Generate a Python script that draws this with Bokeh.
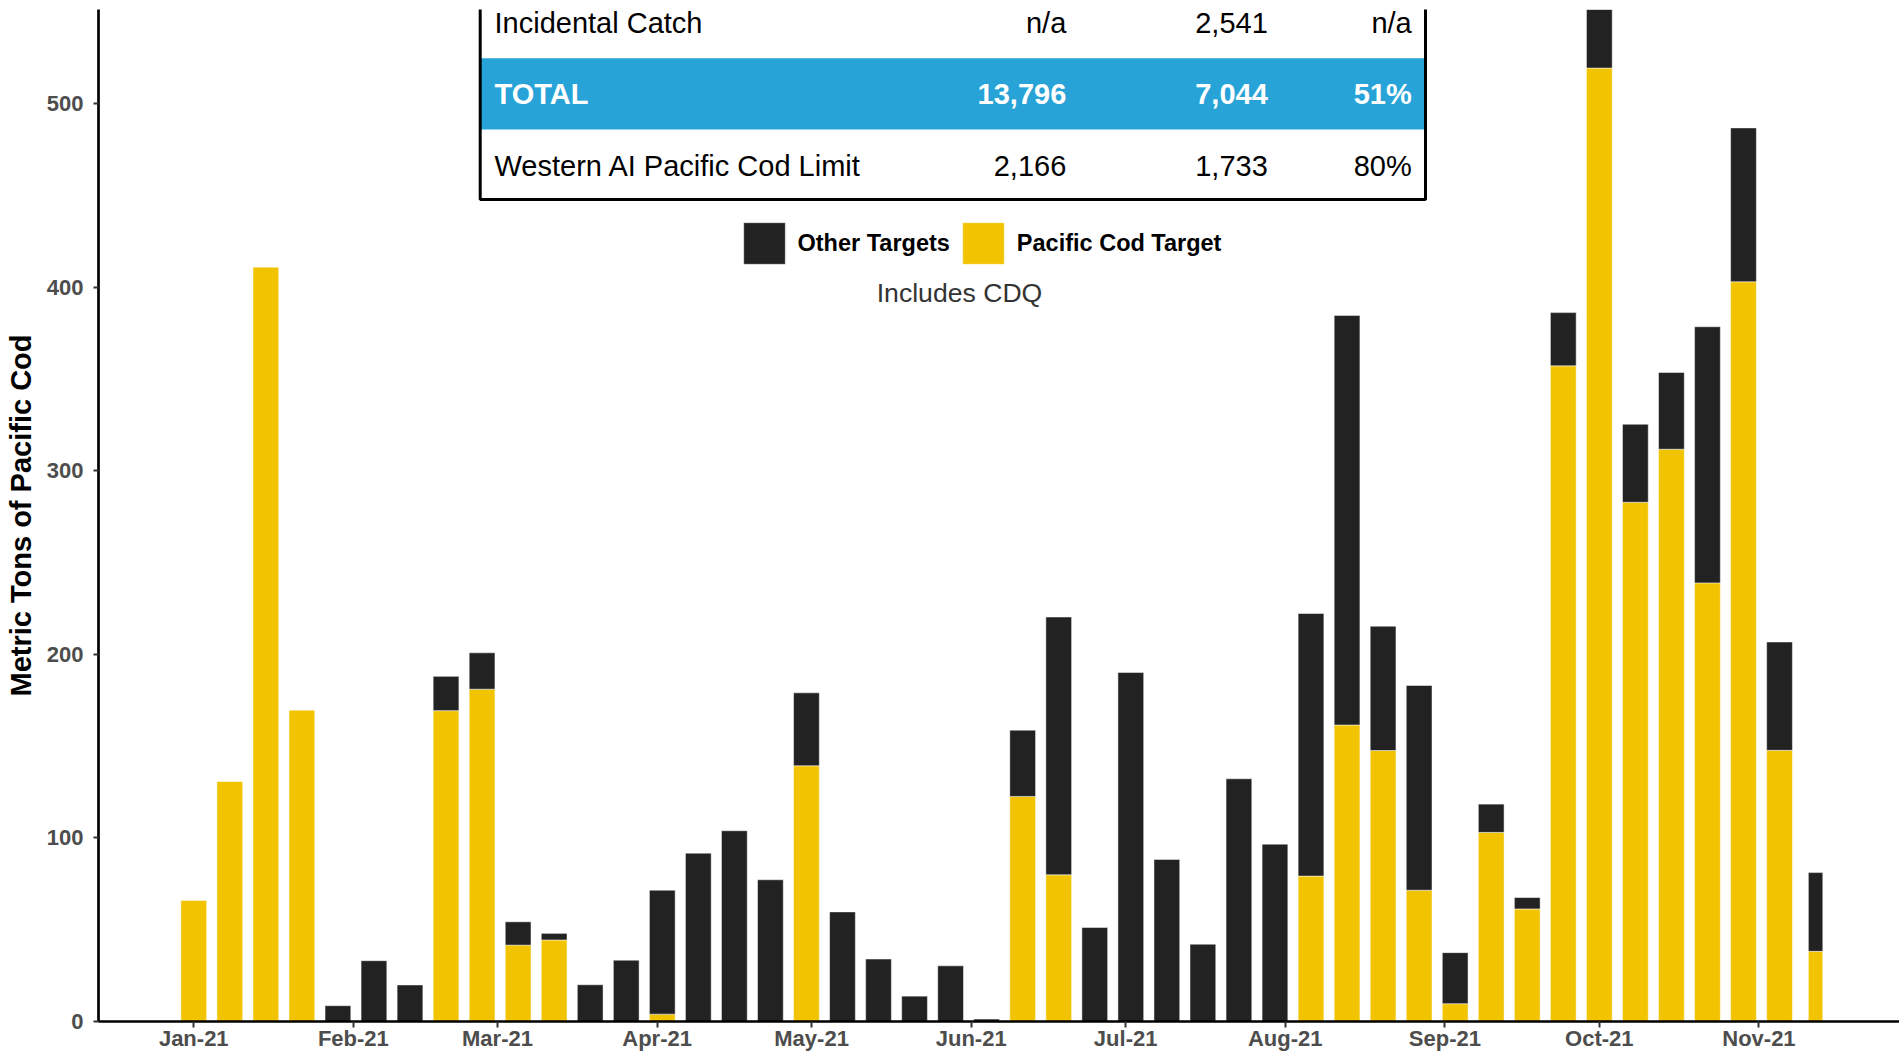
from datetime import datetime, timedelta

from bokeh.plotting import figure
from bokeh.models import (Range1d, Legend, LegendItem, Label, BoxAnnotation,
                          ColumnDataSource, DatetimeTickFormatter, MonthsTicker,
                          FixedTicker)
from bokeh.embed import file_html
from bokeh.resources import INLINE

# ---------------- data ----------------
week_dates = [
    "2021-01-01", "2021-01-08", "2021-01-15", "2021-01-22", "2021-01-29",
    "2021-02-05", "2021-02-12", "2021-02-19", "2021-02-26",
    "2021-03-05", "2021-03-12", "2021-03-19", "2021-03-26",
    "2021-04-02", "2021-04-09", "2021-04-16", "2021-04-23", "2021-04-30",
    "2021-05-07", "2021-05-14", "2021-05-21", "2021-05-28",
    "2021-06-04", "2021-06-11", "2021-06-18", "2021-06-25",
    "2021-07-02", "2021-07-09", "2021-07-16", "2021-07-23", "2021-07-30",
    "2021-08-06", "2021-08-13", "2021-08-20", "2021-08-27",
    "2021-09-03", "2021-09-10", "2021-09-17", "2021-09-24",
    "2021-10-01", "2021-10-08", "2021-10-15", "2021-10-22", "2021-10-29",
    "2021-11-05", "2021-11-12",
]

pacific_cod_target = [
    66.1, 130.9, 411.0, 169.7, 0, 0, 0, 169.3, 181.0,
    41.6, 44.4, 0, 0,
    4.0, 0, 0, 0, 139.3,
    0, 0, 0, 0,
    0, 122.6, 79.9, 0,
    0, 0, 0, 0, 0,
    79.2, 161.5, 147.6, 71.5,
    9.7, 103.0, 61.3, 357.1,
    519.3, 282.8, 311.7, 238.9, 402.9,
    147.7, 38.2,
]

other_targets = [
    0, 0, 0, 0, 8.6, 33.1, 19.9, 18.7, 19.8,
    12.7, 3.6, 20.0, 33.4,
    67.5, 91.7, 103.9, 77.2, 39.7,
    59.7, 34.0, 13.8, 30.3,
    1.3, 36.1, 140.4, 51.2,
    190.1, 88.3, 42.1, 132.2, 96.6,
    143.0, 223.1, 67.7, 111.5,
    27.8, 15.4, 6.2, 29.0,
    32.2, 42.5, 41.8, 139.5, 83.8,
    59.0, 42.9,
]

y_ticks = [0, 100, 200, 300, 400, 500]

table_labels = ["Incidental Catch", "TOTAL", "Western AI Pacific Cod Limit"]
table_col1 = ["n/a", "13,796", "2,166"]
table_col2 = ["2,541", "7,044", "1,733"]
table_col3 = ["n/a", "51%", "80%"]

legend_labels = ["Other Targets", "Pacific Cod Target"]
note_text = "Includes CDQ"
y_title = "Metric Tons of Pacific Cod"

# ---------------- style ----------------
FONT = "Liberation Sans"
YELLOW = "#F2C300"
BLACK = "#222222"
BLUE = "#27A3D7"
TICK_GRAY = "#4D4D4D"
DAY_MS = 86400000
BAR_DAYS = 5.0
LAST_BAR_DAYS = 2.8

W, H = 1899, 1054

dates = [datetime.strptime(d, "%Y-%m-%d") for d in week_dates]
widths = [BAR_DAYS * DAY_MS] * len(dates)
widths[-1] = LAST_BAR_DAYS * DAY_MS

ref = datetime(2021, 1, 1)
x_start = ref - timedelta(days=18.5)
x_end = ref + timedelta(days=331.3)

p = figure(width=W, height=H, x_axis_type="datetime",
           output_backend="svg", toolbar_location=None,
           x_range=Range1d(x_start, x_end), y_range=Range1d(0, 551.2),
           min_border_left=98, min_border_right=0,
           min_border_top=9, min_border_bottom=33)
p.outline_line_color = None
p.background_fill_color = "white"
p.border_fill_color = "white"
p.xgrid.visible = False
p.ygrid.visible = False

src = ColumnDataSource(dict(date=dates, cod=pacific_cod_target,
                            other=other_targets, w=widths))
rs = p.vbar_stack(["cod", "other"], x="date", width="w", source=src,
                  fill_color=[YELLOW, BLACK], line_color="white",
                  line_width=0.8, line_alpha=0.6)

# ---- axes ----
xa = p.xaxis[0]
xa.ticker = MonthsTicker(months=list(range(12)))
xa.formatter = DatetimeTickFormatter(months="%b-%y", days="%b-%y",
                                     years="%b-%y")
xa.axis_line_width = 2.7
xa.axis_line_color = "black"
xa.major_tick_line_width = 2
xa.major_tick_line_color = "#333333"
xa.major_tick_out = 6
xa.major_tick_in = 0
xa.minor_tick_line_color = None
xa.major_label_standoff = -2
xa.major_label_text_font = FONT
xa.major_label_text_font_size = "22px"
xa.major_label_text_font_style = "bold"
xa.major_label_text_color = TICK_GRAY

ya = p.yaxis[0]
ya.ticker = FixedTicker(ticks=y_ticks)
ya.axis_line_width = 2.7
ya.axis_line_color = "black"
ya.major_tick_line_width = 2
ya.major_tick_line_color = "#333333"
ya.major_tick_out = 5
ya.major_tick_in = 0
ya.minor_tick_line_color = None
ya.major_label_standoff = 10
ya.major_label_text_font = FONT
ya.major_label_text_font_size = "22px"
ya.major_label_text_font_style = "bold"
ya.major_label_text_color = TICK_GRAY
ya.axis_label = y_title
ya.axis_label_text_font = FONT
ya.axis_label_text_font_size = "29px"
ya.axis_label_text_font_style = "bold"
ya.axis_label_text_color = "black"
ya.axis_label_standoff = 7

# ---- legend ----
legend = Legend(
    items=[LegendItem(label=legend_labels[0], renderers=[rs[1]]),
           LegendItem(label=legend_labels[1], renderers=[rs[0]])],
    location=(639.5, 751.8), orientation="horizontal",
    glyph_width=52, glyph_height=52, label_standoff=8, spacing=7,
    padding=0, margin=0, border_line_alpha=0, background_fill_alpha=0,
    label_text_font=FONT, label_text_font_size="23.5px",
    label_text_font_style="bold", label_text_color="black",
    label_text_baseline="middle")
p.add_layout(legend)

# ---- summary table (screen units, relative to plot frame) ----
p.add_layout(BoxAnnotation(left=382, right=1327, bottom=892, top=963.3,
                           left_units="screen", right_units="screen",
                           bottom_units="screen", top_units="screen",
                           fill_color=BLUE, fill_alpha=1, line_alpha=0))
p.add_layout(BoxAnnotation(left=381.7, right=1327, bottom=822, top=1100,
                           left_units="screen", right_units="screen",
                           bottom_units="screen", top_units="screen",
                           fill_alpha=0, line_color="black", line_alpha=1,
                           line_width=3))

row_baselines = [998.4, 927.7, 856.0]
col_right = [967.8, 1169.3, 1313.2]
for i, name in enumerate(table_labels):
    is_total = (i == 1)
    color = "white" if is_total else "black"
    style = "bold" if is_total else "normal"
    p.add_layout(Label(x=396, y=row_baselines[i], x_units="screen",
                       y_units="screen", text=name, text_font=FONT,
                       text_font_size="29px", text_font_style=style,
                       text_color=color, text_align="left",
                       text_baseline="alphabetic"))
    for xr, col in zip(col_right, (table_col1, table_col2, table_col3)):
        p.add_layout(Label(x=xr, y=row_baselines[i], x_units="screen",
                           y_units="screen", text=col[i], text_font=FONT,
                           text_font_size="29px", text_font_style=style,
                           text_color=color, text_align="right",
                           text_baseline="alphabetic"))

p.add_layout(Label(x=861, y=728.5, x_units="screen", y_units="screen",
                   text=note_text, text_font=FONT, text_font_size="26.6px",
                   text_color="#333333", text_align="center",
                   text_baseline="alphabetic"))

open("out.html", "w").write(file_html(p, INLINE))
